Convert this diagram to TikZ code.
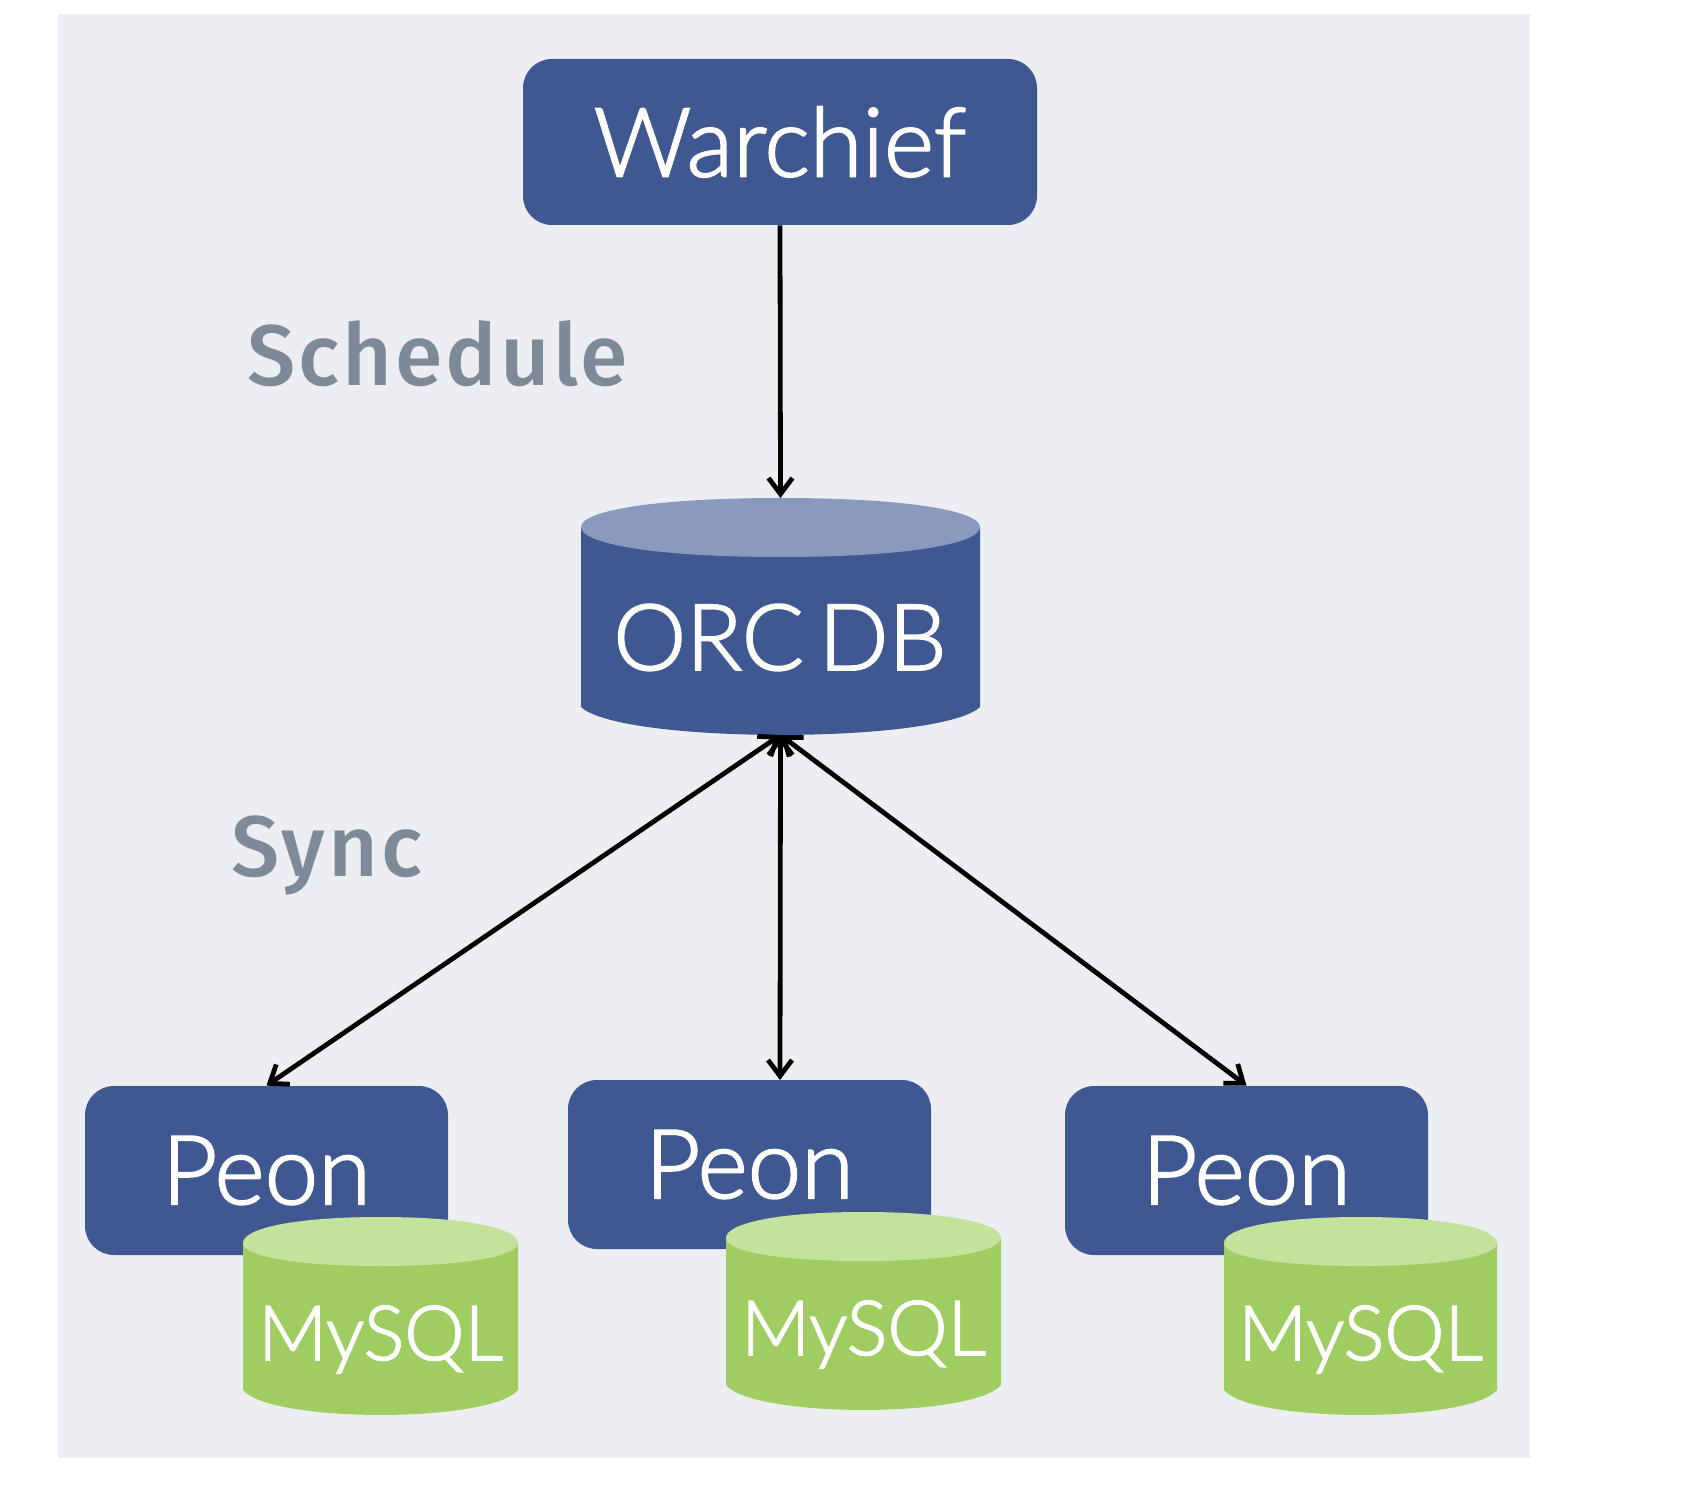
\documentclass[tikz,border=0pt]{standalone}
\usepackage{fontspec}
\setmainfont{Lato Light}[BoldFont=Lato Light,BoldFeatures={FakeBold=2}]
\newfontfamily\labelfont{Fira Sans}[UprightFont=* Medium,LetterSpace=3.5]
\usetikzlibrary{arrows.meta}
\definecolor{bgc}{HTML}{ECEEF2}
\definecolor{bluec}{HTML}{3F5892}
\definecolor{bluetop}{HTML}{8A9ABF}
\definecolor{greenc}{HTML}{A0CD62}
\definecolor{greentop}{HTML}{C5E29C}
\definecolor{labelc}{HTML}{7F8A98}
\tikzset{
  x=0.5pt,y=-0.5pt,
  boxnode/.style={fill=bluec,rounded corners=14.5pt,inner sep=0pt,text=white,font=\fontsize{48}{48}\selectfont\bfseries},
  anchorbox/.style={inner sep=0pt,outer sep=0pt},
  cyltext/.style={text=white,inner sep=0pt,anchor=base},
  side/.style={font=\labelfont\fontsize{43}{43}\selectfont,text=labelc,inner sep=0pt,anchor=base west},
  conn/.style={black,line width=2.4pt,{Straight Barb[length=8pt,width=12pt,line width=2.4pt]}-{Straight Barb[length=8pt,width=12pt,line width=2.4pt]}},
  connone/.style={black,line width=2.4pt,-{Straight Barb[length=8pt,width=12pt,line width=2.4pt]}},
}
% name, left, right, top, ellipse mid, ellipse bottom, side bottom, bottom, body colour
\newcommand\dbcyl[9]{%
  \fill[#9] (#2,#5) -- (#2,#7) .. controls (#2+0.1*#3-0.1*#2,#8+0.33*#8-0.33*#7) and (#3-0.1*#3+0.1*#2,#8+0.33*#8-0.33*#7) .. (#3,#7) -- (#3,#5) -- cycle;
  \node[anchorbox,minimum width=0.5*#3pt-0.5*#2pt,minimum height=0.5*#8pt-0.5*#4pt] (#1) at ({(#2+#3)/2},{(#4+#8)/2}) {};
}
\newcommand\dbtop[6]{% left right top mid bottom colour
  \fill[#6] ({(#1+#2)/2},#5) .. controls (#1+0.18*#2-0.18*#1,#5) and (#1,#4+0.55*#5-0.55*#4) .. (#1,#4)
     .. controls (#1,#3+0.45*#4-0.45*#3) and (#1+0.18*#2-0.18*#1,#3) .. ({(#1+#2)/2},#3)
     .. controls (#2-0.18*#2+0.18*#1,#3) and (#2,#3+0.45*#4-0.45*#3) .. (#2,#4)
     .. controls (#2,#4+0.55*#5-0.55*#4) and (#2-0.18*#2+0.18*#1,#5) .. ({(#1+#2)/2},#5) -- cycle;
}
\begin{document}
\begin{tikzpicture}
\useasboundingbox (0,0) rectangle (1688,1486);
\fill[bgc] (58,14) rectangle (1530,1458);

% Warchief
\node[boxnode,minimum width=257pt,minimum height=83pt] (warchief) at (780,142) {Warchief};

% ORC DB
\dbcyl{orc}{581}{980}{498}{527}{557}{707}{735}{bluec}
\dbtop{581}{980}{498}{527}{557}{bluetop}
\node[cyltext,font=\fontsize{46}{46}\selectfont\bfseries] (orctext) at (780,670) {ORC\hspace{0.16em}DB};

% Peons
\node[boxnode,minimum width=181.5pt,minimum height=84.5pt] (peonA) at (266.5,1170.5) {\raisebox{0.3pt}{Peon}};
\node[boxnode,minimum width=181.5pt,minimum height=84.5pt] (peonB) at (749.5,1164.5) {\raisebox{0.3pt}{Peon}};
\node[boxnode,minimum width=181.5pt,minimum height=84.5pt] (peonC) at (1246.5,1170.5) {\raisebox{0.3pt}{Peon}};

\coordinate (peonBtop) at (780,1080);

% Connectors
\draw[connone] (warchief.south) -- (orc.north);
\draw[conn] (orc.south) -- (peonA.north);
\draw[conn] (orc.south) -- (peonBtop);
\draw[conn] (orc.south) -- (peonC.north);

% MySQL
\dbcyl{dbA}{243}{518}{1217}{1243}{1266}{1390}{1415}{greenc}
\dbtop{243}{518}{1217}{1243}{1266}{greentop}
\node[cyltext,font=\fontsize{38}{38}\selectfont\bfseries] (dbAtext) at (380.5,1360) {MySQL};
\dbcyl{dbB}{726}{1001}{1212}{1238}{1261}{1385}{1410}{greenc}
\dbtop{726}{1001}{1212}{1238}{1261}{greentop}
\node[cyltext,font=\fontsize{38}{38}\selectfont\bfseries] (dbBtext) at (863.5,1355) {MySQL};
\dbcyl{dbC}{1224}{1497}{1217}{1243}{1266}{1390}{1415}{greenc}
\dbtop{1224}{1497}{1217}{1243}{1266}{greentop}
\node[cyltext,font=\fontsize{38}{38}\selectfont\bfseries] (dbCtext) at (1360.5,1360) {MySQL};

% Side labels
\node[side] (schedule) at (247,386) {Schedule};
\node[side] (sync) at (231,877) {Sync};
\end{tikzpicture}
\end{document}
